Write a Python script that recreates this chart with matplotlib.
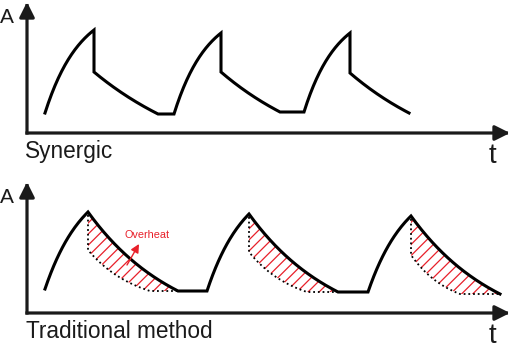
import numpy as np
import matplotlib
matplotlib.use("Agg")
import matplotlib.pyplot as plt

plt.rcParams['font.family'] = ['Liberation Sans', 'DejaVu Sans']
plt.rcParams['hatch.linewidth'] = 0.9

# --- data (t in arbitrary time units, A in arbitrary amplitude) ---
# Synergic: charge up to a peak, sharp drop, then cool down
syn_start_t = [1.8, 14.7, 27.7]
syn_start_a = [2.0, 1.9, 2.1]
syn_peak_t = [6.7, 19.4, 32.3]
syn_peak_a = [10.3, 10.0, 10.0]
syn_drop_a = [6.1, 6.1, 6.0]
syn_end_t = [13.1, 25.3, 38.2]
syn_end_a = [1.9, 2.1, 2.0]

# Traditional method: charge up, slow cool down (dotted = synergic-like cooling)
trad_start_t = [1.8, 18.0, 34.1]
trad_start_a = [2.4, 2.2, 2.1]
trad_peak_t = [6.1, 22.2, 38.4]
trad_peak_a = [10.1, 9.9, 9.7]
trad_end_t = [15.1, 31.1, 47.3]
trad_end_a = [2.2, 2.1, 1.9]
trad_drop_a = [6.3, 6.1, 5.8]
trad_cool_t = [12.3, 28.0, 43.3]

K_RISE_SYN, K_RISE_TRAD = 1.4, 1.1
K_DEC_SYN, K_DEC_TRAD, K_DEC_DOT = 0.5, 1.0, 1.3

AXIS_C = '#1a1a1a'
RED = '#e8202a'
W, H = 510, 360


def seg(t0, t1, a0, a1, k, n=60):
    s = np.linspace(0, 1, n)
    f = (1 - np.exp(-k * s)) / (1 - np.exp(-k))
    return t0 + (t1 - t0) * s, a0 + (a1 - a0) * f


def axis_arrows(ax):
    style = '-|>,head_length=0.9,head_width=0.45'
    for xy in [(1, 0), (0, 1)]:
        ax.annotate('', xy=xy, xytext=(0, 0), xycoords='axes fraction',
                    annotation_clip=False,
                    arrowprops=dict(arrowstyle=style, lw=2.3, color=AXIS_C,
                                    shrinkA=0, shrinkB=0, mutation_scale=10,
                                    capstyle='projecting'))


fig = plt.figure(figsize=(W / 100, H / 100), dpi=100)
ax1 = fig.add_axes([27 / W, 1 - 133 / H, 483 / W, 131 / H])
ax2 = fig.add_axes([27 / W, 1 - 313 / H, 483 / W, 131 / H])
for ax in (ax1, ax2):
    ax.set_xlim(0, 48.3)
    ax.set_ylim(0, 13.1)
    ax.axis('off')
    axis_arrows(ax)

# top: synergic
T, A = [], []
for i in range(3):
    t, a = seg(syn_start_t[i], syn_peak_t[i], syn_start_a[i], syn_peak_a[i], K_RISE_SYN)
    T += list(t); A += list(a)
    t, a = seg(syn_peak_t[i], syn_end_t[i], syn_drop_a[i], syn_end_a[i], K_DEC_SYN)
    T += list(t); A += list(a)
ax1.plot(T, A, color='black', lw=2.2, solid_joinstyle='miter', clip_on=False)

# bottom: traditional
T, A = [], []
for i in range(3):
    t, a = seg(trad_start_t[i], trad_peak_t[i], trad_start_a[i], trad_peak_a[i], K_RISE_TRAD)
    T += list(t); A += list(a)
    ts, as_ = seg(trad_peak_t[i], trad_end_t[i], trad_peak_a[i], trad_end_a[i], K_DEC_TRAD, n=120)
    T += list(ts); A += list(as_)
    # cooling curve of the synergic case, dotted
    td, ad = seg(trad_peak_t[i], trad_cool_t[i], trad_drop_a[i], trad_end_a[i], K_DEC_DOT)
    td = np.concatenate([[trad_peak_t[i]], td, [trad_end_t[i]]])
    ad = np.concatenate([[trad_peak_a[i] - 0.3], ad, [trad_end_a[i]]])
    ax2.plot(td, ad, color='black', lw=1.3, ls=(0, (1, 1.6)))
    low = np.interp(ts, td[1:], ad[1:])
    ax2.fill_between(ts, low, as_, facecolor='none', edgecolor=RED, lw=0, hatch='///')
ax2.plot(T, A, color='black', lw=2.2, solid_joinstyle='miter', clip_on=False)

ax2.annotate('', xy=(11.2, 6.9), xytext=(10.0, 4.8),
             arrowprops=dict(arrowstyle='-|>,head_length=0.5,head_width=0.25',
                             color=RED, lw=1.0, shrinkA=0, shrinkB=0, mutation_scale=10))
ax2.text(9.8, 7.5, 'Overheat', color=RED, fontsize=7.8)


def ftext(x, y, s, **kw):
    fig.text(x / W, 1 - y / H, s, **kw)


ftext(0, 23, 'A', fontsize=15, color=AXIS_C)
ftext(0, 203, 'A', fontsize=15, color=AXIS_C)
ftext(25, 158, 'Synergic', fontsize=16.3, color=AXIS_C)
ftext(26, 338, 'Traditional method', fontsize=16.3, color=AXIS_C)
ftext(489, 163, 't', fontsize=20, color=AXIS_C)
ftext(489, 343, 't', fontsize=20, color=AXIS_C)

fig.savefig('out.png', dpi=100)
